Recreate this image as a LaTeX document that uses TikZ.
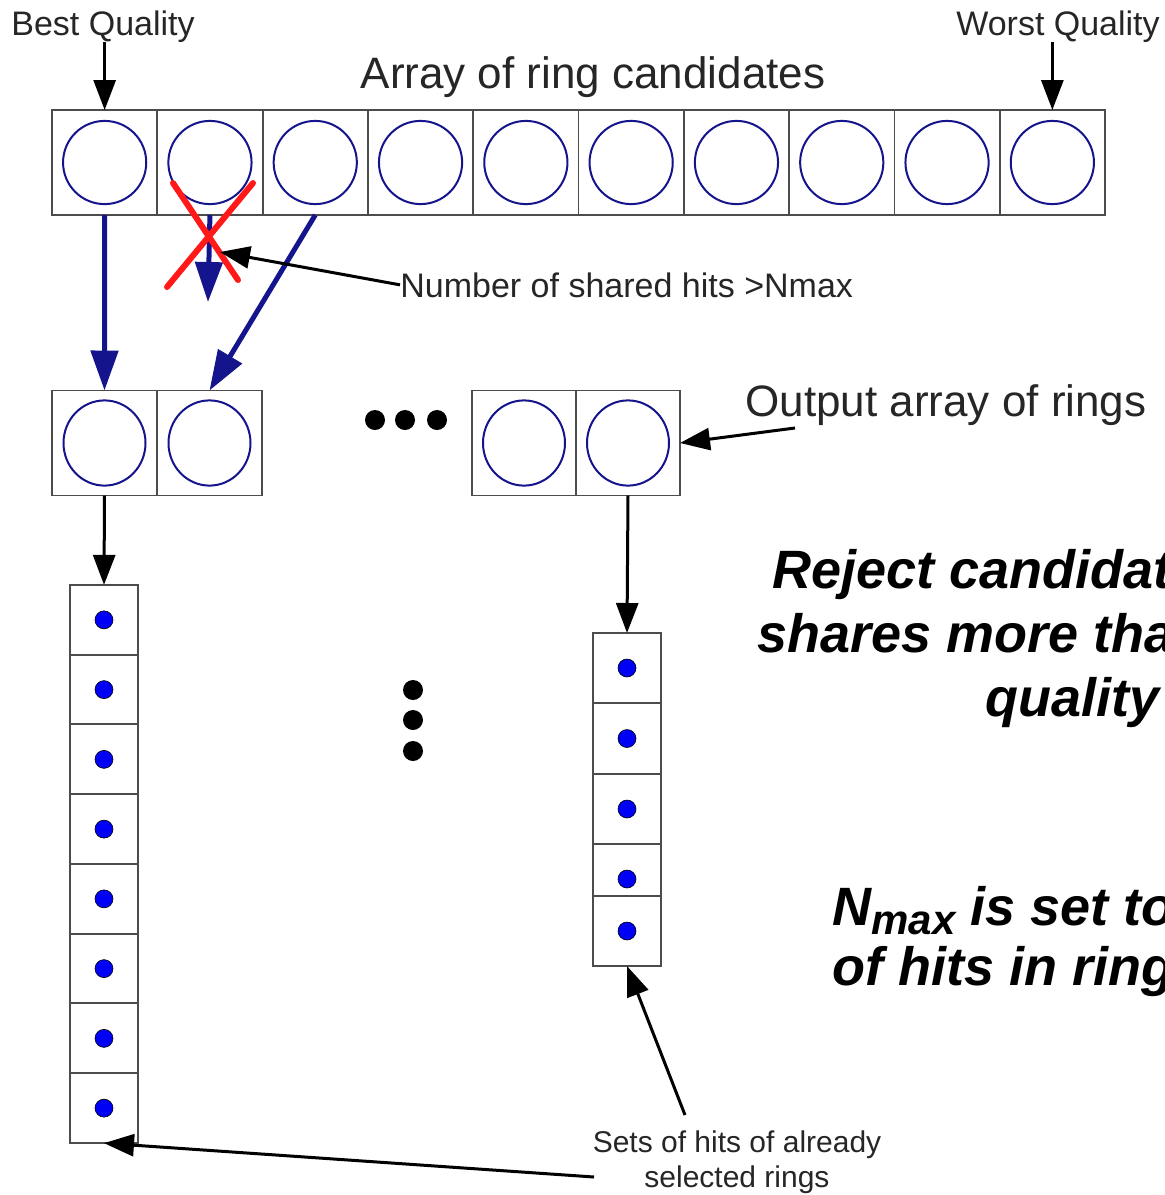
\documentclass[tikz,border=0pt]{standalone}
\usepackage{fontspec}
\setmainfont{Liberation Sans}
\usetikzlibrary{arrows.meta}

\definecolor{ringblue}{RGB}{20,20,140}
\definecolor{hitblue}{RGB}{0,0,245}
\definecolor{crossred}{RGB}{255,25,25}

\begin{document}
\begin{tikzpicture}[x=0.5pt, y=-0.5pt,
		cell/.style={draw=black!70, fill=white, line width=0.9pt, inner sep=0pt, outer sep=0pt, minimum width=52.65pt, minimum height=52.5pt},
		hitcell/.style={cell, minimum width=34pt, minimum height=35pt},
		ring/.style={draw=ringblue, line width=1pt},
		hit/.style={fill=hitblue, draw=black, line width=0.3pt},
		pointer/.style={-{Triangle[length=15pt, width=11pt]}, line width=1.5pt},
		flow/.style={-{Triangle[length=20pt, width=13.5pt]}, draw=ringblue, line width=2.5pt},
		cross/.style={draw=crossred, line width=3pt, line cap=round},
		lbl/.style={font=\fontsize{17}{20}\selectfont, text=black!85, inner sep=0pt},
		headtext/.style={lbl, font=\fontsize{22}{26}\selectfont},
		smalltext/.style={lbl, font=\fontsize{15}{18}\selectfont, anchor=base},
		note/.style={font=\fontsize{27}{32}\selectfont\bfseries\itshape, inner sep=0pt, anchor=base west},
		]
		
		\useasboundingbox (0,0) rectangle (1164,1195);
		\clip (0,0) rectangle (1164,1195);
		
		% array of ring candidates
		\foreach \i in {1,...,10}{
			\node[cell] (cand\i) at ({52+105.3*(\i-0.5)},162.5) {};
			\draw[ring] (cand\i.center) circle (20.8pt);
		}
		\node[lbl, anchor=base] (best) at (103,35) {Best Quality};
		\node[lbl, anchor=base] (worst) at (1058,35) {Worst Quality};
		\node[headtext, anchor=base] (arraytitle) at (593,88) {Array of ring candidates};
		\draw[pointer] (cand1.north |- best.south) -- (cand1.north);
		\draw[pointer] (cand10.north |- worst.south) -- (cand10.north);
		
		% output array
		\node[cell] (outL1) at (104.5,443) {};
		\node[cell] (outL2) at (209.5,443) {};
		\node[cell, minimum width=52pt] (outR1) at (524,443) {};
		\node[cell, minimum width=52pt] (outR2) at (628,443) {};
		\foreach \n in {outL1,outL2,outR1,outR2}
			\draw[ring] (\n.center) ellipse [x radius=20.5pt, y radius=21.3pt];
		\foreach \x in {375,405,437}
			\fill (\x,420) circle (5pt);
		\node[headtext, anchor=base west] (outtitle) at (745,416) {Output array of rings};
		\coordinate (outtail) at (795,428);
		\draw[pointer] (outtail) -- (outR2.east);
		
		% selection
		\draw[flow] (cand1.south) -- (outL1.north);
		\coordinate (rejtip) at (208,302);
		\draw[flow] (cand2.south) -- (rejtip);
		\draw[flow] (cand3.south) -- (outL2.north);
		\draw[cross] (173,183) -- (238,280);
		\draw[cross] (253,183) -- (167,287);
		\node[lbl, anchor=base west] (nshared) at (400,297) {Number of shared hits >Nmax};
		\coordinate (xmark) at (220,252);
		\draw[pointer] (nshared.west) -- (xmark);
		
		% sets of hits
		\foreach \i in {1,...,8}{
			\node[hitcell] (hitL\i) at (104,{585+69.75*(\i-0.5)}) {};
			\draw[hit] (hitL\i.center) circle (4.5pt);
		}
		\foreach \y [count=\i] in {668,738.5,809,879,931}{
			\node[hitcell] (hitR\i) at (627,\y) {};
			\draw[hit] (hitR\i.center) circle (4.5pt);
		}
		\foreach \y in {690,720,751}
			\fill (413,\y) circle (5pt);
		\draw[pointer] (outL1.south) -- (hitL1.north);
		\draw[pointer] (outR2.south) -- (hitR1.north);
		
		\node[smalltext] (sets1) at (737,1152) {Sets of hits of already};
		\node[smalltext] (sets2) at (737,1187) {selected rings};
		\coordinate (setstail1) at (685,1115);
		\coordinate (setstail2) at (594,1177);
		\draw[pointer] (setstail1) -- (hitR5.south);
		\draw[pointer] (setstail2) -- (hitL8.south);
		
		% notes
		\node[note] (rej1) at (772,588) {Reject candidat};
		\node[note] (rej2) at (757,652) {shares more tha};
		\node[note] (rej3) at (985,716) {quality};
		\node[note] (nmax1) at (832,925) {N\raisebox{-0.32ex}{\fontsize{21}{21}\selectfont max} is set to};
		\node[note] (nmax2) at (832,985) {of hits in ring};
	\end{tikzpicture}
\end{document}
